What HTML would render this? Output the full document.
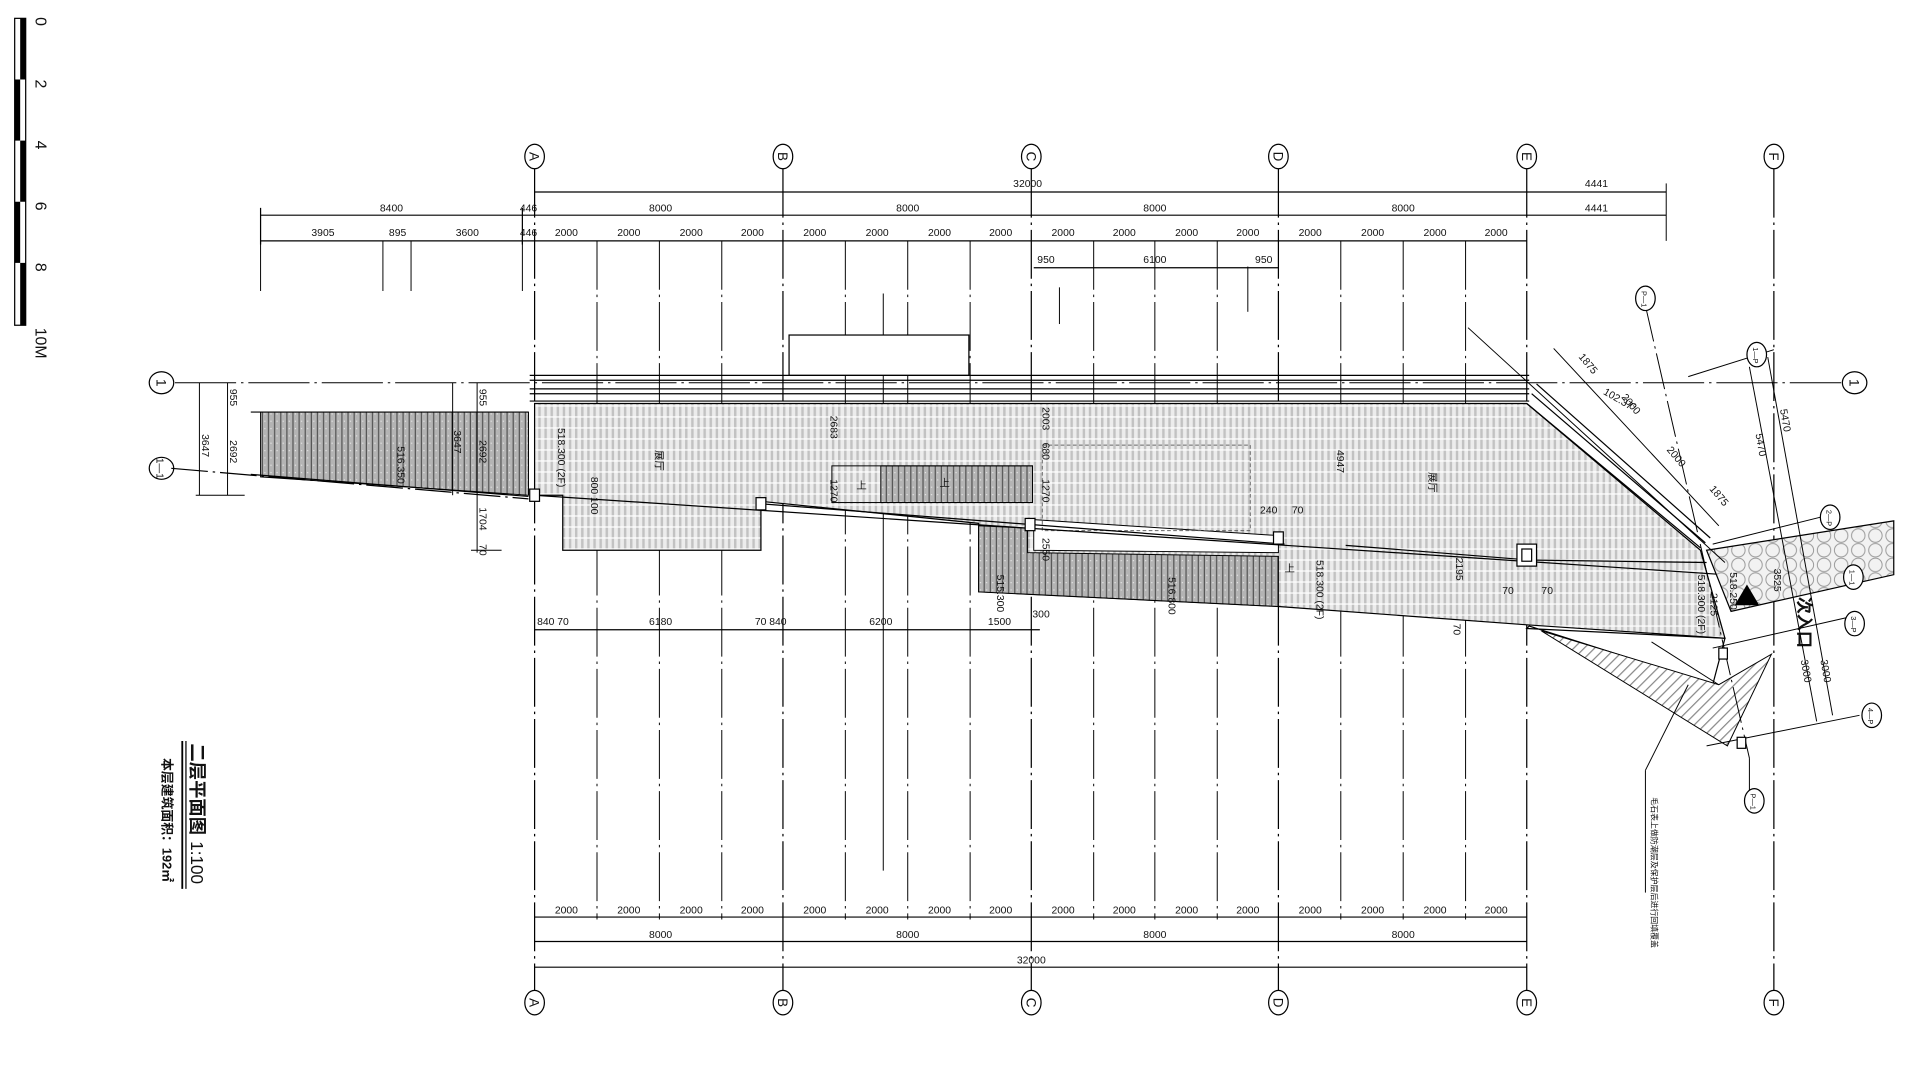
<!DOCTYPE html>
<html><head><meta charset="utf-8"><style>
html,body{margin:0;padding:0;background:#fff;}
svg{display:block;}
text{font-family:"Liberation Sans Narrow","Liberation Sans","Noto Sans CJK SC",sans-serif;fill:#111;}
</style></head><body>
<svg width="1917" height="1065" viewBox="0 0 1567 871" preserveAspectRatio="none" xmlns="http://www.w3.org/2000/svg">
<defs>
<pattern id="lh" width="5" height="9" patternUnits="userSpaceOnUse">
<rect width="5" height="9" fill="#ececec"/><rect x="0" width="2" height="9" fill="#c2c2c2"/><rect y="7.5" width="5" height="1" fill="#fff"/>
</pattern>
<pattern id="dh" width="5" height="6" patternUnits="userSpaceOnUse">
<rect width="5" height="6" fill="#b4b4b4"/><rect x="4" width="1" height="6" fill="#555"/><rect x="1" y="2" width="1" height="1" fill="#e4e4e4"/>
</pattern>
<pattern id="dg" width="6" height="6" patternUnits="userSpaceOnUse" patternTransform="rotate(45)">
<rect width="6" height="6" fill="#fff"/><rect width="1" height="6" fill="#888"/>
</pattern>
<pattern id="st" width="14" height="12" patternUnits="userSpaceOnUse">
<rect width="14" height="12" fill="#f2f2f2"/><circle cx="7" cy="6" r="5.5" fill="none" stroke="#999" stroke-width="0.8"/>
</pattern>
</defs>

<!-- scale bar -->
<rect x="12" y="15" width="9" height="251" fill="#fff" stroke="#000" stroke-width="1"/>
<rect x="16.5" y="15" width="4.5" height="50" fill="#000"/>
<rect x="12" y="65" width="4.5" height="50" fill="#000"/>
<rect x="16.5" y="115" width="4.5" height="50" fill="#000"/>
<rect x="12" y="165" width="4.5" height="50" fill="#000"/>
<rect x="16.5" y="215" width="4.5" height="51" fill="#000"/>
<g font-size="13" fill="#333">
<text transform="translate(29,14) rotate(90)">0</text>
<text transform="translate(29,65) rotate(90)">2</text>
<text transform="translate(29,115) rotate(90)">4</text>
<text transform="translate(29,165) rotate(90)">6</text>
<text transform="translate(29,215) rotate(90)">8</text>
<text transform="translate(29,268) rotate(90)">10M</text>
</g>

<!-- main grid lines (dash-dot) -->
<g stroke="#000" stroke-width="1" stroke-dasharray="40,4,2,4">
<line x1="437" y1="138" x2="437" y2="810"/><line x1="640" y1="138" x2="640" y2="810"/>
<line x1="843" y1="138" x2="843" y2="810"/><line x1="1045" y1="138" x2="1045" y2="810"/>
<line x1="1248" y1="138" x2="1248" y2="810"/><line x1="1450" y1="138" x2="1450" y2="810"/>
</g>
<g stroke="#000" stroke-width="0.8" stroke-dasharray="40,4,2,4">
<line x1="488" y1="197" x2="488" y2="752"/><line x1="539" y1="197" x2="539" y2="752"/><line x1="590" y1="197" x2="590" y2="752"/>
<line x1="691" y1="197" x2="691" y2="752"/><line x1="742" y1="197" x2="742" y2="752"/><line x1="793" y1="197" x2="793" y2="752"/>
<line x1="894" y1="197" x2="894" y2="752"/><line x1="944" y1="197" x2="944" y2="752"/><line x1="995" y1="197" x2="995" y2="752"/>
<line x1="1096" y1="197" x2="1096" y2="752"/><line x1="1147" y1="197" x2="1147" y2="752"/><line x1="1198" y1="197" x2="1198" y2="752"/>
</g>
<g stroke="#000" stroke-width="0.8">
<line x1="213" y1="197" x2="213" y2="238"/><line x1="313" y1="197" x2="313" y2="238"/><line x1="336" y1="197" x2="336" y2="238"/><line x1="427" y1="197" x2="427" y2="238"/>
<line x1="722" y1="240" x2="722" y2="712"/><line x1="866" y1="235" x2="866" y2="265"/><line x1="1020" y1="218" x2="1020" y2="255"/>
<line x1="1362" y1="150" x2="1362" y2="197"/>
</g>

<!-- grid bubbles -->
<g fill="#fff" stroke="#000" stroke-width="1">
<ellipse cx="437" cy="128" rx="8" ry="10"/><ellipse cx="640" cy="128" rx="8" ry="10"/><ellipse cx="843" cy="128" rx="8" ry="10"/>
<ellipse cx="1045" cy="128" rx="8" ry="10"/><ellipse cx="1248" cy="128" rx="8" ry="10"/><ellipse cx="1450" cy="128" rx="8" ry="10"/>
<ellipse cx="437" cy="820" rx="8" ry="10"/><ellipse cx="640" cy="820" rx="8" ry="10"/><ellipse cx="843" cy="820" rx="8" ry="10"/>
<ellipse cx="1045" cy="820" rx="8" ry="10"/><ellipse cx="1248" cy="820" rx="8" ry="10"/><ellipse cx="1450" cy="820" rx="8" ry="10"/>
<ellipse cx="132" cy="313" rx="10" ry="9"/><ellipse cx="1516" cy="313" rx="10" ry="9"/><ellipse cx="132" cy="383" rx="10" ry="9"/>
</g>
<g font-size="11" text-anchor="middle">
<text transform="translate(433,128) rotate(90)">A</text><text transform="translate(636,128) rotate(90)">B</text><text transform="translate(839,128) rotate(90)">C</text>
<text transform="translate(1041,128) rotate(90)">D</text><text transform="translate(1244,128) rotate(90)">E</text><text transform="translate(1446,128) rotate(90)">F</text>
<text transform="translate(433,820) rotate(90)">A</text><text transform="translate(636,820) rotate(90)">B</text><text transform="translate(839,820) rotate(90)">C</text>
<text transform="translate(1041,820) rotate(90)">D</text><text transform="translate(1244,820) rotate(90)">E</text><text transform="translate(1446,820) rotate(90)">F</text>
<text transform="translate(128,313) rotate(90)">1</text><text transform="translate(1512,313) rotate(90)">1</text><text transform="translate(128,383) rotate(90)" font-size="8">1—1</text>
</g>

<!-- top dimension lines -->
<g stroke="#000" stroke-width="1">
<line x1="437" y1="157" x2="1362" y2="157"/>
<line x1="213" y1="176" x2="1362" y2="176"/>
<line x1="213" y1="197" x2="1248" y2="197"/>
<line x1="845" y1="219" x2="1045" y2="219"/>
<line x1="437" y1="750" x2="1248" y2="750"/>
<line x1="437" y1="770" x2="1248" y2="770"/>
<line x1="437" y1="791" x2="1248" y2="791"/>
<line x1="213" y1="170" x2="213" y2="200"/><line x1="427" y1="170" x2="427" y2="200"/>
</g>
<g font-size="8.5" text-anchor="middle">
<text x="840" y="153">32000</text><text x="1305" y="153">4441</text>
<text x="320" y="173">8400</text><text x="432" y="173">446</text><text x="540" y="173">8000</text><text x="742" y="173">8000</text><text x="944" y="173">8000</text><text x="1147" y="173">8000</text><text x="1305" y="173">4441</text>
<text x="264" y="193">3905</text><text x="325" y="193">895</text><text x="382" y="193">3600</text><text x="432" y="193">446</text>
<text x="463" y="193">2000</text><text x="514" y="193">2000</text><text x="565" y="193">2000</text><text x="615" y="193">2000</text>
<text x="666" y="193">2000</text><text x="717" y="193">2000</text><text x="768" y="193">2000</text><text x="818" y="193">2000</text>
<text x="869" y="193">2000</text><text x="919" y="193">2000</text><text x="970" y="193">2000</text><text x="1020" y="193">2000</text>
<text x="1071" y="193">2000</text><text x="1122" y="193">2000</text><text x="1173" y="193">2000</text><text x="1223" y="193">2000</text>
<text x="855" y="215">950</text><text x="944" y="215">6100</text><text x="1033" y="215">950</text>
<text x="463" y="747">2000</text><text x="514" y="747">2000</text><text x="565" y="747">2000</text><text x="615" y="747">2000</text>
<text x="666" y="747">2000</text><text x="717" y="747">2000</text><text x="768" y="747">2000</text><text x="818" y="747">2000</text>
<text x="869" y="747">2000</text><text x="919" y="747">2000</text><text x="970" y="747">2000</text><text x="1020" y="747">2000</text>
<text x="1071" y="747">2000</text><text x="1122" y="747">2000</text><text x="1173" y="747">2000</text><text x="1223" y="747">2000</text>
<text x="540" y="767">8000</text><text x="742" y="767">8000</text><text x="944" y="767">8000</text><text x="1147" y="767">8000</text>
<text x="843" y="788">32000</text>
<text x="452" y="511">840 70</text><text x="540" y="511">6180</text><text x="630" y="511">70 840</text><text x="720" y="511">6200</text><text x="817" y="511">1500</text><text x="851" y="505">300</text>
</g>
<line x1="437" y1="515" x2="850" y2="515" stroke="#000" stroke-width="1"/>

<!-- left stair -->
<polygon points="213,337 432,337 432,405 213,390" fill="url(#dh)" stroke="#000" stroke-width="0.8"/>
<line x1="205" y1="337" x2="432" y2="337" stroke="#000"/>
<line x1="205" y1="388" x2="432" y2="406" stroke="#000"/>
<line x1="140" y1="383" x2="432" y2="408" stroke="#000" stroke-dasharray="30,4,2,4"/>
<line x1="143" y1="313" x2="1505" y2="313" stroke="#000" stroke-dasharray="50,4,2,4" stroke-width="0.8"/>
<g stroke="#000" stroke-width="0.8">
<line x1="163" y1="313" x2="163" y2="405"/><line x1="186" y1="313" x2="186" y2="405"/><line x1="160" y1="405" x2="200" y2="405"/>
<line x1="370" y1="313" x2="370" y2="405"/><line x1="390" y1="313" x2="390" y2="452"/><line x1="385" y1="450" x2="410" y2="450"/>
</g>
<g font-size="8.5">
<text transform="translate(188,318) rotate(90)">955</text><text transform="translate(165,355) rotate(90)">3647</text><text transform="translate(188,360) rotate(90)">2692</text>
<text transform="translate(392,318) rotate(90)">955</text><text transform="translate(371,352) rotate(90)">3647</text><text transform="translate(392,360) rotate(90)">2692</text>
<text transform="translate(392,415) rotate(90)">1704</text><text transform="translate(392,445) rotate(90)">70</text>
<text transform="translate(325,365) rotate(90)">516.350</text>
</g>

<!-- top box and wall band -->
<rect x="645" y="274" width="147" height="33" fill="#fff" stroke="#000" stroke-width="1"/>
<g stroke="#000" stroke-width="1">
<line x1="433" y1="307" x2="1250" y2="307"/><line x1="433" y1="311" x2="1250" y2="311"/>
<line x1="433" y1="318" x2="1250" y2="318"/><line x1="433" y1="322" x2="1250" y2="322"/>
<line x1="433" y1="328" x2="1250" y2="328"/>
</g>

<!-- main floor -->
<polygon points="437,330 1248,330 1390,450 1410,522 1248,511 1045,496 800,484 800,428 622,410 622,450 460,450 460,405 437,405" fill="url(#lh)" stroke="#000" stroke-width="1"/>
<polygon points="800,430 840,432 840,452 1045,455 1045,496 800,484" fill="url(#dh)" stroke="#000" stroke-width="0.8"/>
<polygon points="845,425 1045,438 1045,452 845,450" fill="#fff" stroke="#000" stroke-width="0.8"/>
<rect x="720" y="381" width="124" height="30" fill="url(#dh)" stroke="#000" stroke-width="0.8"/>
<rect x="680" y="381" width="164" height="30" fill="none" stroke="#000" stroke-width="0.8"/>
<rect x="852" y="364" width="170" height="70" fill="none" stroke="#666" stroke-width="0.8" stroke-dasharray="3,2"/>
<g stroke="#000" stroke-width="1">
<line x1="437" y1="405" x2="1410" y2="470"/><line x1="622" y1="412" x2="1050" y2="445"/>
<line x1="1248" y1="330" x2="1390" y2="448"/><line x1="1252" y1="322" x2="1394" y2="444"/><line x1="1256" y1="314" x2="1398" y2="440"/>
<line x1="1100" y1="446" x2="1250" y2="458"/><line x1="1248" y1="458" x2="1395" y2="460"/>
</g>
<!-- columns -->
<g fill="#fff" stroke="#000" stroke-width="1">
<rect x="433" y="400" width="8" height="10"/><rect x="838" y="424" width="8" height="10"/><rect x="1041" y="435" width="8" height="10"/>
<rect x="1240" y="445" width="16" height="18"/><rect x="1244" y="449" width="8" height="10"/>
<rect x="618" y="407" width="8" height="10"/>
</g>

<!-- right side stone & entrance -->
<polygon points="1395,450 1548,426 1548,470 1415,500" fill="url(#st)" stroke="#000" stroke-width="1"/>
<polygon points="1248,514 1410,522 1400,560 1250,512" fill="none" stroke="#000"/>
<polygon points="1260,516 1405,560 1448,535 1412,610" fill="url(#dg)" stroke="#000" stroke-width="0.8"/>
<polygon points="1428,478 1438,495 1418,495" fill="#000"/>
<text transform="translate(1470,488) rotate(90)" font-size="14" font-weight="bold" font-family="Noto Sans CJK SC,sans-serif">次入口</text>
<g stroke="#000" stroke-width="0.8">
<line x1="1200" y1="268" x2="1410" y2="460"/><line x1="1345" y1="250" x2="1430" y2="620" stroke-dasharray="30,4,2,4"/>
<line x1="1380" y1="308" x2="1450" y2="286"/><line x1="1400" y1="445" x2="1500" y2="420"/><line x1="1400" y1="530" x2="1510" y2="505"/><line x1="1395" y1="610" x2="1520" y2="585"/>
<line x1="1430" y1="300" x2="1485" y2="590"/><line x1="1445" y1="292" x2="1498" y2="585"/>
<line x1="1270" y1="285" x2="1405" y2="430"/><line x1="1350" y1="525" x2="1405" y2="560"/>
<line x1="1380" y1="560" x2="1345" y2="630"/><line x1="1345" y1="630" x2="1345" y2="730"/>
<line x1="1430" y1="620" x2="1430" y2="650"/>
</g>
<g fill="#fff" stroke="#000" stroke-width="1">
<ellipse cx="1345" cy="244" rx="8" ry="10"/><ellipse cx="1436" cy="290" rx="8" ry="10"/><ellipse cx="1496" cy="423" rx="8" ry="10"/>
<ellipse cx="1515" cy="472" rx="8" ry="10"/><ellipse cx="1516" cy="510" rx="8" ry="10"/><ellipse cx="1530" cy="585" rx="8" ry="10"/><ellipse cx="1434" cy="655" rx="8" ry="10"/>
<rect x="1405" y="530" width="7" height="9"/><rect x="1420" y="603" width="7" height="9"/>
</g>
<g font-size="6">
<text transform="translate(1342,238) rotate(90)">P—1</text><text transform="translate(1433,284) rotate(90)">1—P</text><text transform="translate(1493,417) rotate(90)">2—P</text>
<text transform="translate(1512,466) rotate(90)">1—1</text><text transform="translate(1513,504) rotate(90)">3—P</text><text transform="translate(1527,579) rotate(90)">4—P</text><text transform="translate(1431,649) rotate(90)">P—1</text>
</g>
<g font-size="8.5">
<text transform="translate(1290,292) rotate(50)">1875</text><text transform="translate(1325,325) rotate(50)">2000</text><text transform="translate(1362,368) rotate(50)">2000</text><text transform="translate(1397,400) rotate(50)">1875</text>
<text transform="translate(1310,322) rotate(30)">102.37°</text>
<text transform="translate(1435,355) rotate(80)">5470</text><text transform="translate(1455,335) rotate(80)">5470</text>
<text transform="translate(1472,540) rotate(80)">3000</text><text transform="translate(1488,540) rotate(80)">3000</text>
<text transform="translate(1414,468) rotate(90)">518.250</text><text transform="translate(1388,470) rotate(90)">518.300 (2F)</text><text transform="translate(1398,485) rotate(90)">2125</text>
<text transform="translate(1450,465) rotate(90)">3525</text>
</g>

<!-- interior labels -->
<g font-size="8.5">
<text transform="translate(456,350) rotate(90)">518.300 (2F)</text>
<text transform="translate(536,368) rotate(90)" font-family="Noto Sans CJK SC,sans-serif">展厅</text>
<text transform="translate(1168,386) rotate(90)" font-family="Noto Sans CJK SC,sans-serif">展厅</text>
<text transform="translate(679,340) rotate(90)">2683</text><text transform="translate(679,392) rotate(90)">1270</text>
<text transform="translate(852,333) rotate(90)">2003</text><text transform="translate(852,362) rotate(90)">680</text><text transform="translate(852,392) rotate(90)">1270</text>
<text transform="translate(852,440) rotate(90)">2550</text>
<text transform="translate(815,470) rotate(90)">515.300</text><text transform="translate(955,472) rotate(90)">516.800</text>
<text transform="translate(1076,458) rotate(90)">518.300 (2F)</text><text transform="translate(1093,368) rotate(90)">4947</text>
<text transform="translate(1190,456) rotate(90)">2195</text><text transform="translate(1188,510) rotate(90)">70</text>
<text x="1030" y="420">240</text><text x="1056" y="420">70</text>
<text transform="translate(483,390) rotate(90)">800 100</text><text x="1228" y="486">70</text><text x="1260" y="486">70</text>
<text x="768" y="398">上</text><text x="700" y="400">上</text><text x="1050" y="468">上</text>
</g>

<!-- title -->
<g>
<line x1="149" y1="606" x2="149" y2="727" stroke="#000" stroke-width="1.5"/>
<line x1="152" y1="606" x2="152" y2="727" stroke="#000" stroke-width="1"/>
<text transform="translate(156,608) rotate(90)" font-size="15" font-weight="bold" font-family="Noto Sans CJK SC,sans-serif">二层平面图</text>
<text transform="translate(156,688) rotate(90)" font-size="14" fill="#333">1:100</text>
<text transform="translate(133,620) rotate(90)" font-size="10.5" font-weight="bold" font-family="Noto Sans CJK SC,sans-serif">本层建筑面积：192㎡</text>
<text transform="translate(1350,652) rotate(90)" font-size="6.5" font-family="Noto Sans CJK SC,sans-serif">毛石表上做防潮层及保护层后进行回填覆盖</text>
</g>
</svg>
</body></html>
